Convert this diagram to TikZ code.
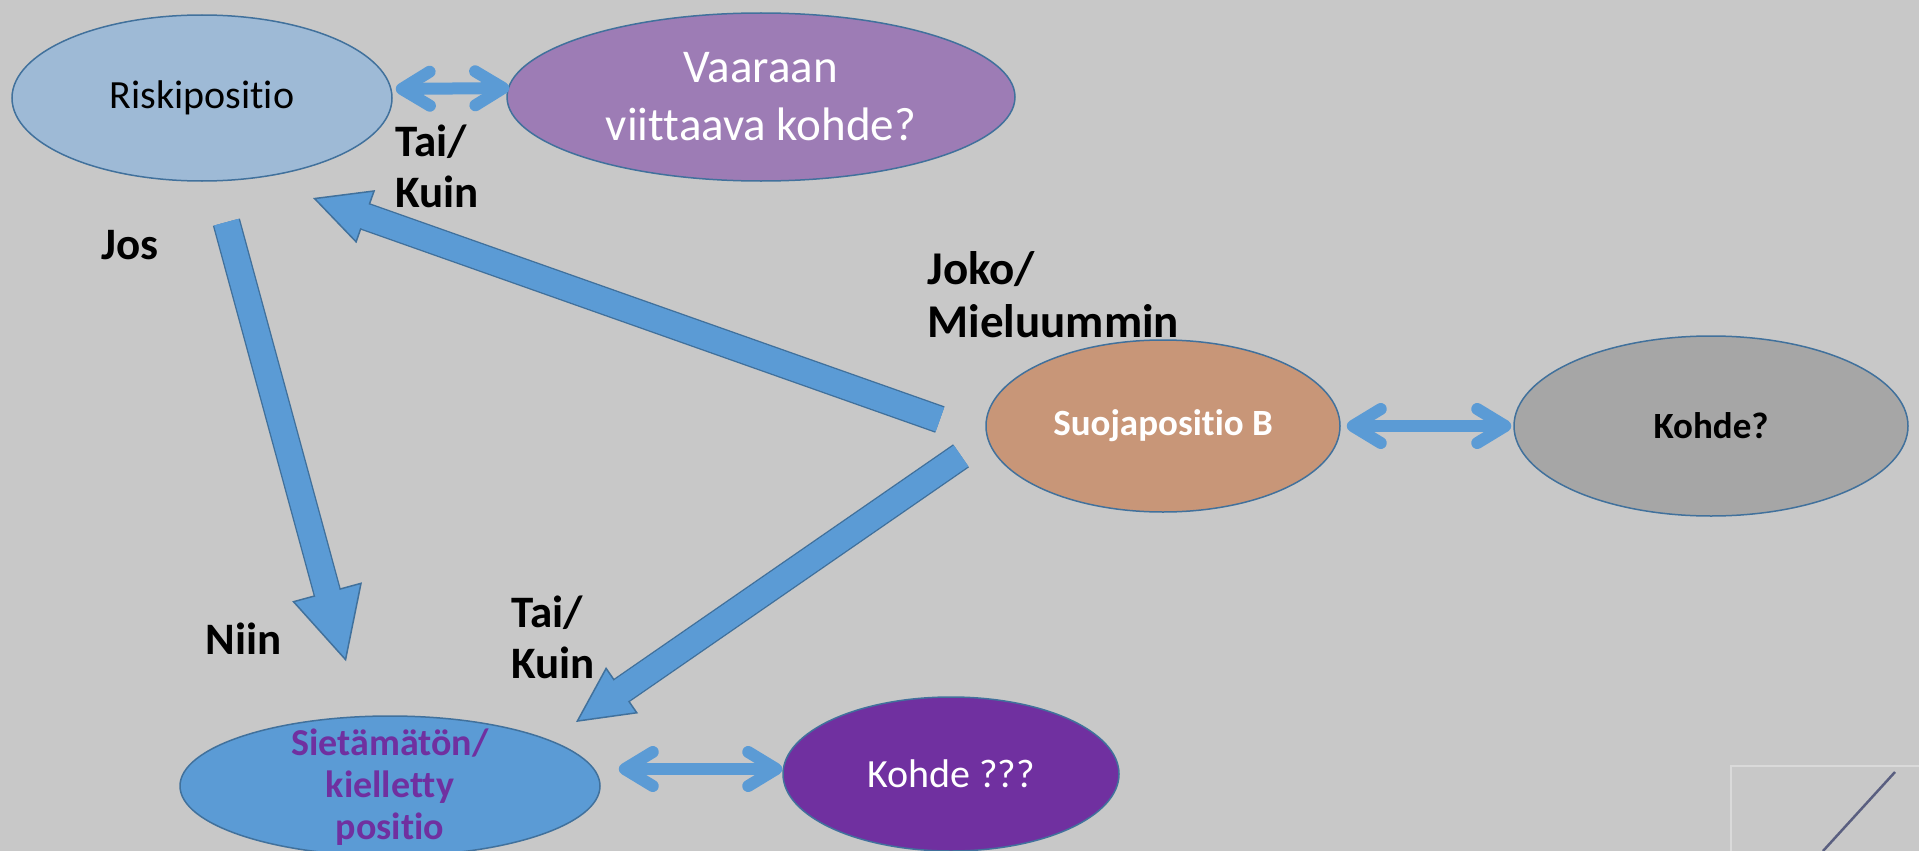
\documentclass[tikz,border=0pt]{standalone}
\usepackage{fontspec}
\setmainfont{Carlito}[Ligatures=NoCommon]
\usetikzlibrary{arrows.meta, shapes.geometric}

\definecolor{bgcol}{RGB}{200,200,200}
\definecolor{edgeblue}{RGB}{65,113,156}
\definecolor{arrowblue}{RGB}{91,155,213}
\definecolor{riskfill}{RGB}{158,186,214}
\definecolor{vaarafill}{RGB}{157,124,181}
\definecolor{suojafill}{RGB}{200,150,120}
\definecolor{kohdefill}{RGB}{166,166,166}
\definecolor{kiellfill}{RGB}{91,155,213}
\definecolor{kohdepurple}{RGB}{112,48,160}
\definecolor{framegray}{RGB}{218,218,218}
\definecolor{slate}{RGB}{90,95,128}

\begin{document}
\begin{tikzpicture}[x=1pt, y=-1pt,
        every node/.style={font=\fontsize{37}{44}\selectfont, align=center},
        posbox/.style={ellipse, draw=edgeblue, line width=1.5pt, inner sep=0pt},
        word/.style={font=\fontsize{45}{51}\selectfont\bfseries, align=left, anchor=west},
        twoway/.style={{Straight Barb[length=28pt,width=34pt,round]}-{Straight Barb[length=28pt,width=34pt,round]}, line width=12pt, draw=arrowblue},
        bigarrow/.style={draw=arrowblue, line width=25pt, shorten <=1.5pt,
            -{Triangle[width=#1,length=#1,line width=1.5pt,fill=arrowblue,color=edgeblue]},
            preaction={draw=edgeblue, line width=28pt, -, shorten >=#1-6pt},
            postaction={draw=arrowblue, line width=25pt, -, shorten <=1.5pt, shorten >=#1-10pt}},
        bigarrow/.default=56pt
    ]
    \useasboundingbox (0,0) rectangle (1919,851);
    \fill[bgcol] (0,0) rectangle (1919,851);

    % Nodes
    \node[posbox, fill=riskfill, minimum width=380pt, minimum height=166pt, font=\fontsize{40}{46}\selectfont] (R) at (202,98) {Riskipositio};
    \node[posbox, fill=vaarafill, text=white, minimum width=508pt, minimum height=168pt, font=\fontsize{47}{58}\selectfont] (V) at (761,97) {Vaaraan\\viittaava kohde?};
    \node[posbox, fill=suojafill, text=white, minimum width=354pt, minimum height=172pt, font=\fontsize{37}{44}\selectfont\bfseries] (B) at (1163,426) {Suojapositio B};
    \node[posbox, fill=kohdefill, minimum width=394pt, minimum height=180pt, font=\fontsize{37}{44}\selectfont\bfseries] (K) at (1711,426) {Kohde?};
    \node[posbox, fill=kiellfill, minimum width=420pt, minimum height=140pt,
        label={[text=kohdepurple, font=\fontsize{38}{42}\selectfont\bfseries, align=center, yshift=-1pt]center:{Sietämätön/\\kielletty\\positio}}] (S) at (390,786) {};
    \node[posbox, fill=kohdepurple, text=white, minimum width=336pt, minimum height=154pt, font=\fontsize{40}{46}\selectfont] (Q) at (951,774) {Kohde ???};

    % Labels
    \node[word] (taiA) at (392,166) {Tai/\\Kuin};
    \node[word] (jos) at (98,245) {Jos};
    \node[word, font=\fontsize{47}{53}\selectfont\bfseries] (joko) at (924,295) {Joko/\\Mieluummin};
    \node[word] (niin) at (202,639) {Niin};
    \node[word] (taiB) at (508,637) {Tai/\\Kuin};

    % Arrows
    \draw[twoway] ([xshift=3pt,yshift=9pt]R.east) -- ([xshift=3pt,yshift=9pt]V.west);
    \draw[twoway] ([xshift=6pt]B.east) -- ([xshift=-2pt]K.west);
    \draw[twoway] ([xshift=18pt,yshift=17pt]S.east) -- ([yshift=5pt]Q.west);

    \draw[bigarrow=72pt] ([xshift=24pt,yshift=-39pt]R.south) -- ([xshift=-44pt,yshift=54pt]S.north);
    \draw[bigarrow] ([xshift=-44pt,yshift=6pt]B.west) -- ([xshift=111pt,yshift=-100pt]R.center);
    \draw[bigarrow] ([xshift=-23pt,yshift=-29pt]B.west) -- ([xshift=186pt,yshift=64pt]S.center);

    % corner
    \draw[framegray, line width=2pt] (1731,860) -- (1731,766) -- (1930,766);
    \draw[slate, line width=2.5pt] (1823,851) -- (1895,772);
\end{tikzpicture}
\end{document}
